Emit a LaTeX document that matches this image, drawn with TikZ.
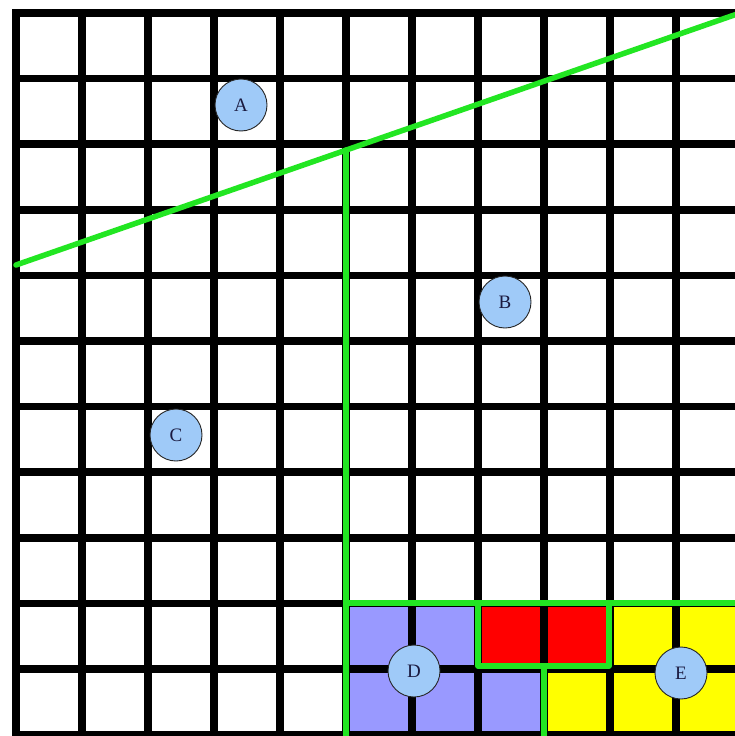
\documentclass[tikz,border=0pt]{standalone}
\usepackage{fontspec}
\setmainfont{Liberation Serif}
\definecolor{gridgreen}{HTML}{22E622}
\definecolor{purp}{HTML}{9999FF}
\definecolor{cellred}{HTML}{FF0000}
\definecolor{cellyellow}{HTML}{FFFF00}
\definecolor{bubble}{HTML}{9FCAF8}
\definecolor{lettercol}{HTML}{1A1A40}
\begin{document}
\begin{tikzpicture}[x=1pt,y=-1pt,
  gridline/.style={line width=7.5pt, black, line cap=rect},
  border/.style={line width=5.5pt, gridgreen, line cap=round, line join=round},
  bubblenode/.style={circle, draw=black!85, line width=0.9pt, fill=bubble,
    minimum size=52pt, inner sep=0pt, text=lettercol, font=\fontsize{19}{19}\selectfont}]
\useasboundingbox (0,0) rectangle (735,736);
\clip (0,0) rectangle (735,736);
\fill[white] (0,0) rectangle (735,736);
% coloured cells
\fill[purp] (346,603) rectangle (478,740);
\fill[purp] (478,669) rectangle (544,740);
\fill[cellred] (478,603) rectangle (610,669);
\fill[cellyellow] (610,603) rectangle (745,669);
\fill[cellyellow] (544,669) rectangle (745,740);
% grid
\foreach \i in {0,...,11} {
  \draw[gridline] ({16+66*\i},13) -- ({16+66*\i},740);
}
\foreach \j in {0,...,11} {
  \draw[gridline] (16,{13+65.6*\j}) -- (745,{13+65.6*\j});
}
% green borders
\draw[border] (16,265) -- (740,13);
\draw[border] (346,150) -- (346,740);
\draw[border] (346,603) -- (740,603);
\draw[border] (478,603) rectangle (609,666);
\draw[border] (544,666) -- (544,740);
% labels
\node[bubblenode] (A) at (241,105) {A};
\node[bubblenode] (B) at (505,302) {B};
\node[bubblenode] (C) at (176,435) {C};
\node[bubblenode] (D) at (414,671) {D};
\node[bubblenode] (E) at (681,673) {E};
\end{tikzpicture}
\end{document}
